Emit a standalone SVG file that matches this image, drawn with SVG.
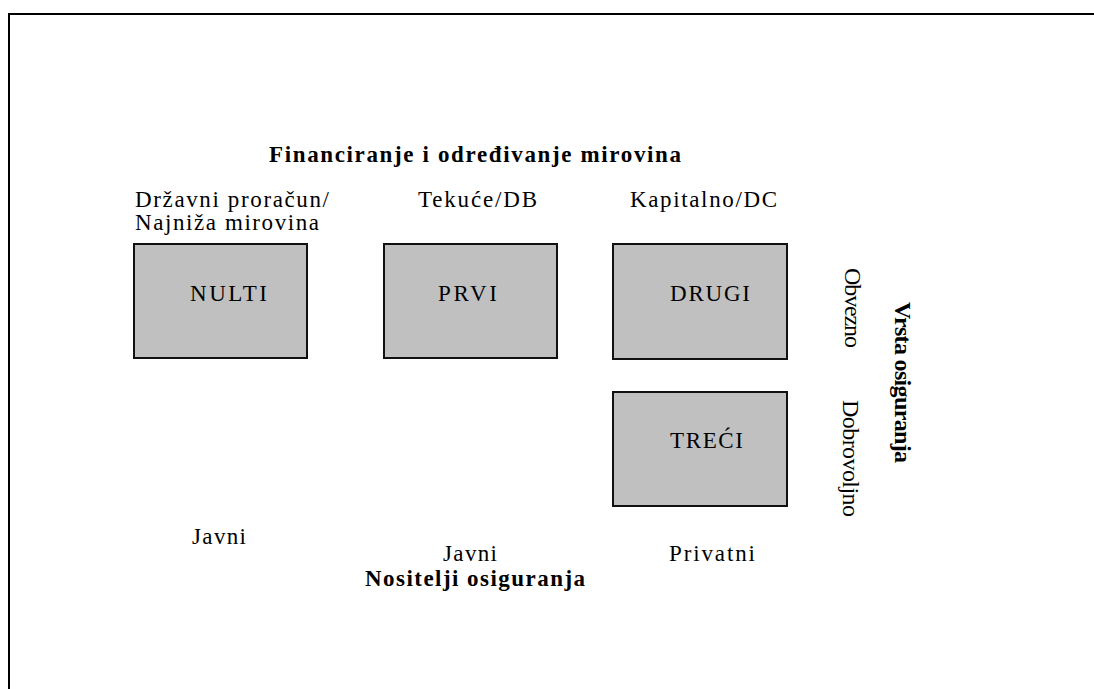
<svg xmlns="http://www.w3.org/2000/svg" width="1094" height="689" viewBox="0 0 1094 689">
<style>
.t{font-family:"Liberation Serif","Times New Roman",serif;font-size:23px;fill:#000}
.b{font-weight:bold}
.r{font-size:24px}
.box{fill:#C0C0C0;stroke:#111;stroke-width:2}
</style>
<rect width="1094" height="689" fill="#fff"/>
<rect x="9" y="14" width="1100" height="700" fill="none" stroke="#000" stroke-width="2"/>
<g id="labels">
<text class="t b" x="269" y="162" textLength="412" lengthAdjust="spacing">Financiranje i određivanje mirovina</text>
<text class="t" x="135" y="207" textLength="194" lengthAdjust="spacing">Državni proračun/</text>
<text class="t" x="135" y="230" textLength="184" lengthAdjust="spacing">Najniža mirovina</text>
<text class="t" x="418" y="207" textLength="119" lengthAdjust="spacing">Tekuće/DB</text>
<text class="t" x="630" y="207" textLength="147" lengthAdjust="spacing">Kapitalno/DC</text>
<text class="t" x="192" y="544" textLength="54" lengthAdjust="spacing">Javni</text>
<text class="t" x="443" y="561" textLength="54" lengthAdjust="spacing">Javni</text>
<text class="t" x="669" y="561" textLength="86" lengthAdjust="spacing">Privatni</text>
<text class="t b" x="365" y="586" textLength="220" lengthAdjust="spacing">Nositelji osiguranja</text>
<text class="t r" transform="translate(845,268) rotate(90)" textLength="80" lengthAdjust="spacing">Obvezno</text>
<text class="t r" transform="translate(843,400) rotate(90)" textLength="117" lengthAdjust="spacing">Dobrovoljno</text>
<text class="t r b" transform="translate(895,302) rotate(90)" textLength="161" lengthAdjust="spacing">Vrsta osiguranja</text>
</g>
<g id="nulti">
<rect class="box" x="134" y="244" width="173" height="114"/>
<text class="t" x="190" y="301" textLength="77" lengthAdjust="spacing">NULTI</text>
</g>
<g id="prvi">
<rect class="box" x="384" y="244" width="173" height="114"/>
<text class="t" x="438" y="301" textLength="59" lengthAdjust="spacing">PRVI</text>
</g>
<g id="drugi">
<rect class="box" x="613" y="244" width="174" height="115"/>
<text class="t" x="670" y="301" textLength="80" lengthAdjust="spacing">DRUGI</text>
</g>
<g id="treci">
<rect class="box" x="613" y="392" width="174" height="114"/>
<text class="t" x="670" y="448" textLength="73" lengthAdjust="spacing">TREĆI</text>
</g>
<g id="connectors"/>
</svg>
